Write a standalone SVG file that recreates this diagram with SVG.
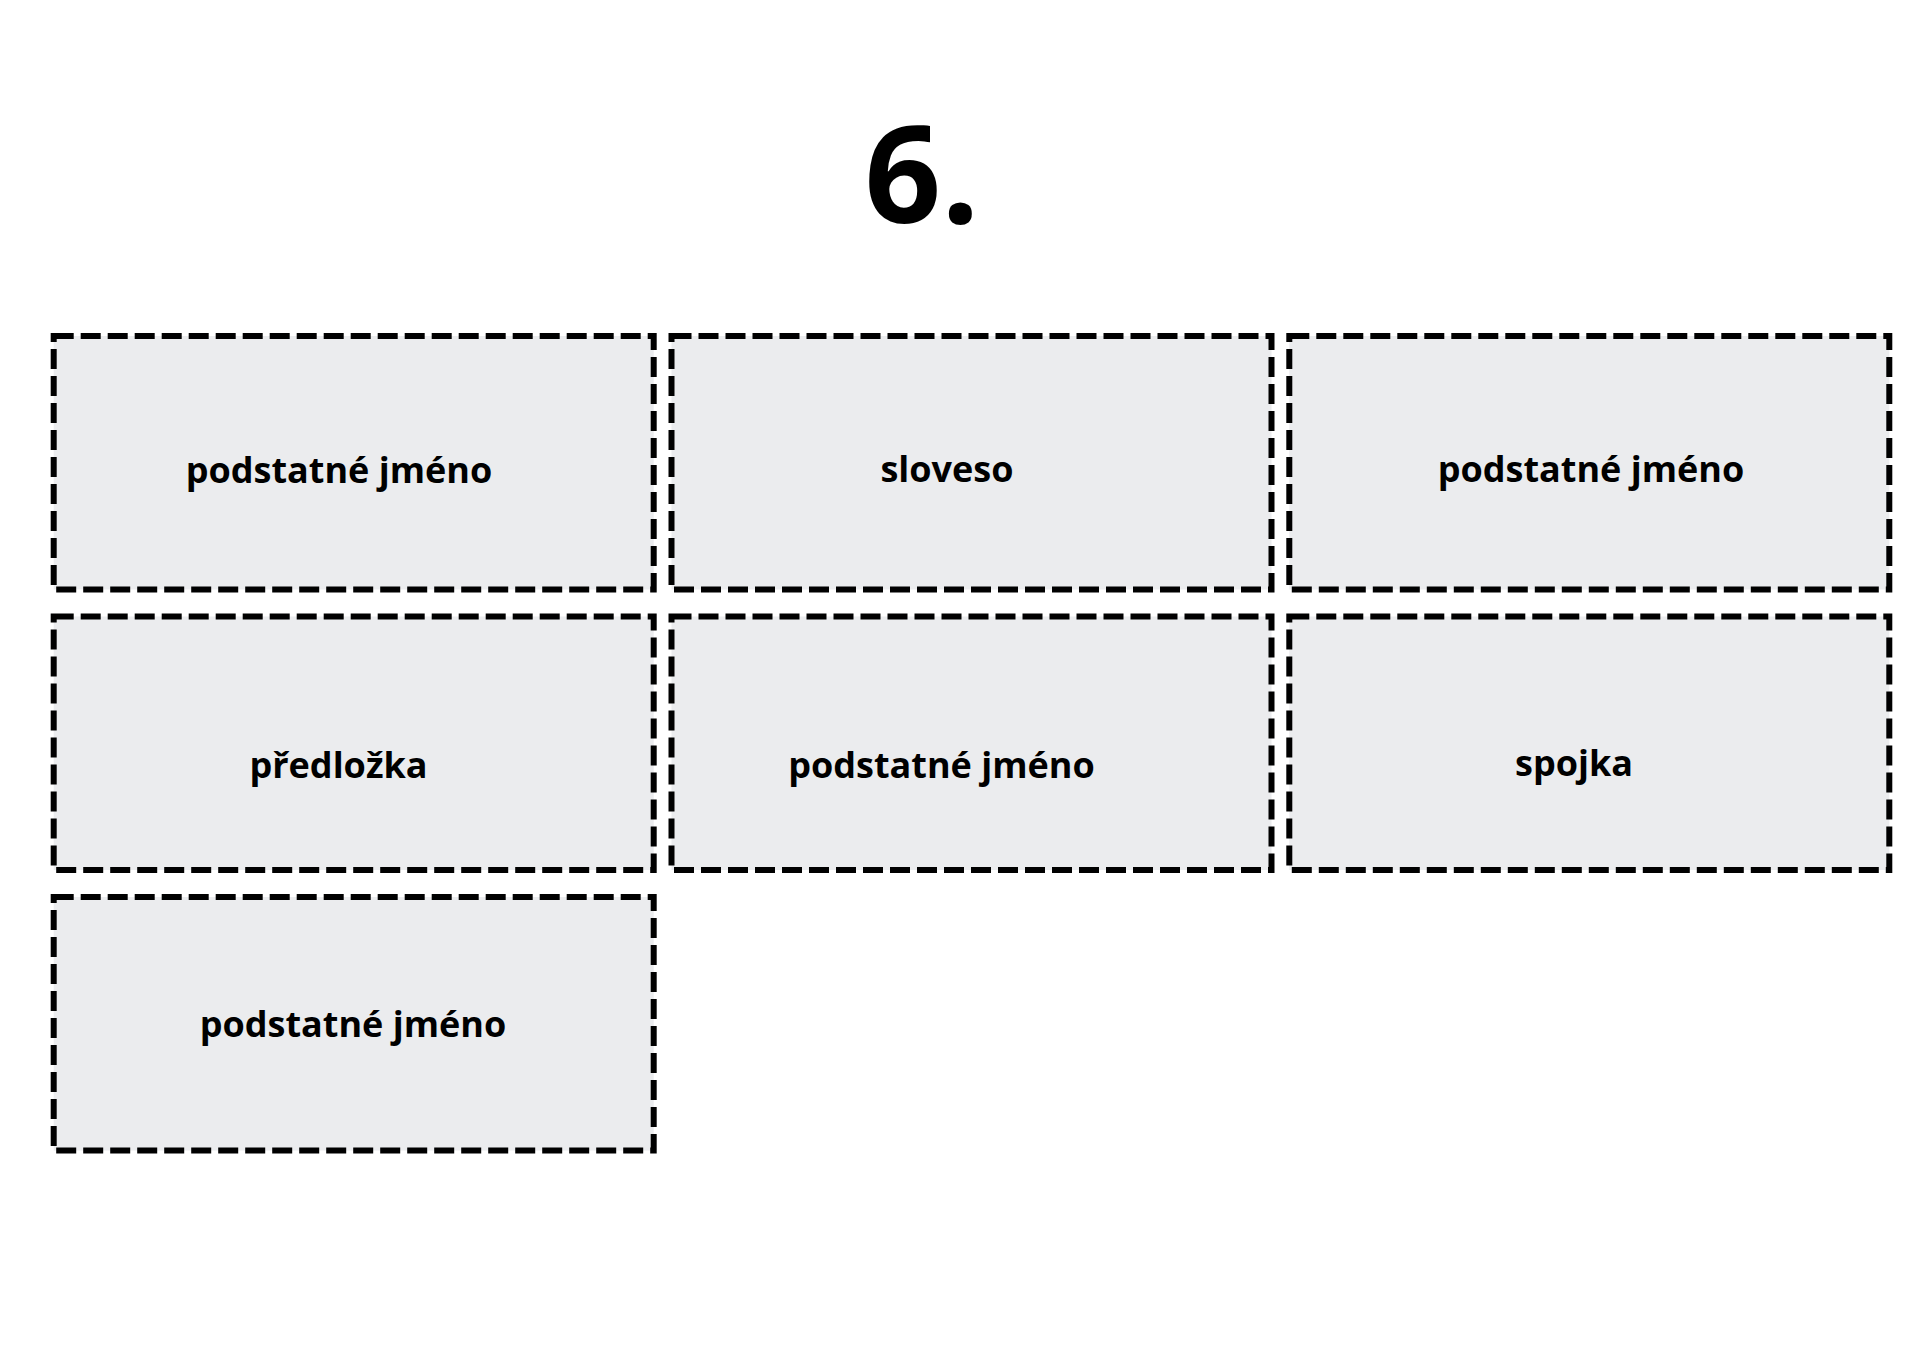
<svg xmlns="http://www.w3.org/2000/svg" width="1920" height="1357" viewBox="0 0 1920 1357">
<style>
.box{fill:#EBECEE;stroke:#000;stroke-width:6;stroke-dasharray:20 7;}
.lbl{font-family:"Open Sans","Noto Sans","Liberation Sans",sans-serif;font-weight:700;font-size:36px;fill:#000;text-anchor:middle;}
.title{font-family:"Open Sans","Noto Sans","Liberation Sans",sans-serif;font-weight:700;font-size:134px;fill:#000;text-anchor:middle;}
</style>
<rect width="1920" height="1357" fill="#fff"/>
<text class="title" x="922" y="223">6.</text>
<g id="connectors"></g>
<g id="n1"><rect class="box" x="53.7" y="336" width="600" height="253.5"/><text class="lbl" x="339" y="483">podstatné jméno</text></g>
<g id="n2"><rect class="box" x="671.5" y="336" width="600" height="253.5"/><text class="lbl" x="947" y="482">sloveso</text></g>
<g id="n3"><rect class="box" x="1289.3" y="336" width="600" height="253.5"/><text class="lbl" x="1591" y="482">podstatné jméno</text></g>
<g id="n4"><rect class="box" x="53.7" y="616.5" width="600" height="253.5"/><text class="lbl" x="338.5" y="778">předložka</text></g>
<g id="n5"><rect class="box" x="671.5" y="616.5" width="600" height="253.5"/><text class="lbl" x="941.5" y="778">podstatné jméno</text></g>
<g id="n6"><rect class="box" x="1289.3" y="616.5" width="600" height="253.5"/><text class="lbl" x="1574" y="776">spojka</text></g>
<g id="n7"><rect class="box" x="53.7" y="897" width="600" height="253.5"/><text class="lbl" x="353" y="1037">podstatné jméno</text></g>
</svg>
